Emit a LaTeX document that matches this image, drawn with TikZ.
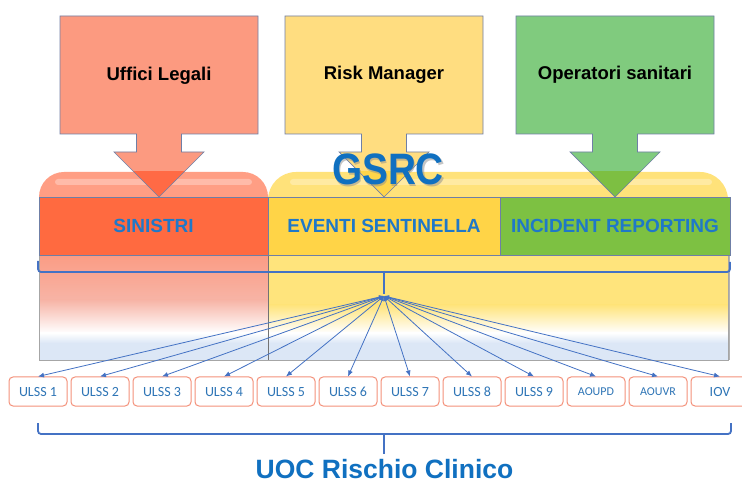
\documentclass[tikz,border=0pt]{standalone}
\usepackage{fontspec}
\setmainfont{Liberation Sans}
\newfontfamily\calfont{Carlito}
\usetikzlibrary{arrows.meta}
\definecolor{arRed}{HTML}{FC9A80}
\definecolor{arRedD}{HTML}{FF6A45}
\definecolor{arYel}{HTML}{FFDD80}
\definecolor{arYelD}{HTML}{FFD54A}
\definecolor{arGrn}{HTML}{80CB7E}
\definecolor{arGrnD}{HTML}{7DBF42}
\definecolor{barRed}{HTML}{FF6A40}
\definecolor{barYel}{HTML}{FFD447}
\definecolor{barGrn}{HTML}{7DC142}
\definecolor{bgRed}{HTML}{FF9E84}
\definecolor{bgYel}{HTML}{FFE27A}
\definecolor{lowRed}{HTML}{FB9C84}
\definecolor{midRed}{HTML}{F7B4A6}
\definecolor{lowYel}{HTML}{FFE47C}
\definecolor{lowBlue}{HTML}{DCE7F6}
\definecolor{edge}{HTML}{6F7FA6}
\definecolor{txtBlue}{HTML}{1F78C8}
\definecolor{bigBlue}{HTML}{1070C0}
\definecolor{lnBlue}{HTML}{4472C4}
\definecolor{boxEdge}{HTML}{F4917A}
\definecolor{boxTxt}{HTML}{2E75B6}
\newcommand\blockarrowpath{(-99,16) -- (99,16) -- (99,134) -- (22.5,134) -- (22.5,152) -- (45,152) -- (0,197) -- (-45,152) -- (-22.5,152) -- (-22.5,134) -- (-99,134) -- cycle}
\tikzset{
  lbl/.style={font=\fontsize{18.5}{21}\selectfont\bfseries, text=black},
  bar/.style={draw=edge, line width=0.7pt, minimum height=58pt, inner sep=0pt,
    font=\fontsize{19}{22}\selectfont\bfseries, text=txtBlue},
  ulss/.style={draw=boxEdge, line width=1pt, fill=white, rounded corners=4pt,
    minimum width=58pt, minimum height=29pt, inner sep=0pt, text=boxTxt,
    text height=9pt, text depth=0pt,
    font=\calfont\fontsize{14}{16}\selectfont},
  ulsss/.style={ulss, text height=8pt, font=\calfont\fontsize{12}{14}\selectfont},
  conn/.style={draw=lnBlue, line width=0.8pt, {Latex[length=5pt,width=4pt]}-{Latex[length=6pt,width=5pt]}},
  brace/.style={draw=lnBlue, line width=1.8pt, rounded corners=3pt}
}
\begin{document}
\begin{tikzpicture}[x=1pt,y=-1pt]
\useasboundingbox (0,0) rectangle (742,486);
\fill[white] (0,0) rectangle (742,486);

% background rounded panels (top part)
\begin{scope}
\clip (0,0) rectangle (742,255);
\fill[bgYel, rounded corners=28pt] (268,172) rectangle (728,320);
\fill[bgRed, rounded corners=25pt] (39,172) rectangle (268,320);
\fill[white, opacity=0.3, rounded corners=3pt] (55,179) rectangle (252,185);
\fill[white, opacity=0.3, rounded corners=3pt] (290,179) rectangle (712,185);
\end{scope}

% lower panels gradients
\shade[top color=lowRed, bottom color=midRed] (39,255) rectangle (268,300);
\shade[top color=midRed, bottom color=white] (39,300) rectangle (268,333);
\shade[top color=white, bottom color=lowBlue] (39,333) rectangle (268,343);
\fill[lowBlue] (39,343) rectangle (268,360);
\fill[lowYel] (268,255) rectangle (728,305);
\shade[top color=lowYel, bottom color=white] (268,305) rectangle (728,333);
\shade[top color=white, bottom color=lowBlue] (268,333) rectangle (728,343);
\fill[lowBlue] (268,343) rectangle (728,360);
\draw[gray!70, line width=0.8pt] (39,255) -- (39,360) -- (728,360) -- (728,255);
\draw[gray!90!black, line width=1.6pt] (268.5,255) -- (268.5,360);
\draw[gray!60, line width=1.2pt] (729.5,205) -- (729.5,360);

% block arrows
\begin{scope}[shift={(159,0)}]
  \fill[arRed] \blockarrowpath;
  \begin{scope}\clip (-60,172) rectangle (60,198); \fill[arRedD] \blockarrowpath; \end{scope}
  \draw[edge, line width=0.7pt] \blockarrowpath;
\end{scope}
\begin{scope}[shift={(384,0)}]
  \fill[arYel] \blockarrowpath;
  \begin{scope}\clip (-60,172) rectangle (60,198); \fill[arYelD] \blockarrowpath; \end{scope}
  \draw[edge, line width=0.7pt] \blockarrowpath;
\end{scope}
\begin{scope}[shift={(615,0)}]
  \fill[arGrn] \blockarrowpath;
  \begin{scope}\clip (-60,172) rectangle (60,198); \fill[arGrnD] \blockarrowpath; \end{scope}
  \draw[edge, line width=0.7pt] \blockarrowpath;
\end{scope}
\node[lbl] (ul) at (159,76) {Uffici Legali};
\node[lbl] (rm) at (384,75) {Risk Manager};
\node[lbl] (os) at (615,75) {Operatori sanitari};

% bars
\node[bar, fill=barRed, minimum width=229pt] (sin) at (153.5,226) {SINISTRI};
\node[bar, fill=barYel, minimum width=232pt] (ev) at (384,226) {EVENTI SENTINELLA};
\node[bar, fill=barGrn, minimum width=230pt] (ir) at (615,226) {INCIDENT REPORTING};

% GSRC title
\node[anchor=base, text=black!45, opacity=0.5, font=\fontsize{44}{48}\selectfont\bfseries] at (389.5,186.5) {\scalebox{0.88}[1]{GSRC}};
\node[anchor=base, text=bigBlue, font=\fontsize{44}{48}\selectfont\bfseries] (gsrc) at (388,185) {\scalebox{0.88}[1]{GSRC}};

% upper brace
\coordinate (bt) at (384,294);
\draw[brace] (38,261) |- (730,272) -- (730,262);
\draw[draw=lnBlue, line width=1.8pt] (384,271) -- (bt);
\coordinate (hub) at (384,296);

% ULSS boxes
\node[ulss] (u1) at (38,391.5) {ULSS 1};
\node[ulss] (u2) at (100,391.5) {ULSS 2};
\node[ulss] (u3) at (162,391.5) {ULSS 3};
\node[ulss] (u4) at (224,391.5) {ULSS 4};
\node[ulss] (u5) at (286,391.5) {ULSS 5};
\node[ulss] (u6) at (348,391.5) {ULSS 6};
\node[ulss] (u7) at (410,391.5) {ULSS 7};
\node[ulss] (u8) at (472,391.5) {ULSS 8};
\node[ulss] (u9) at (534,391.5) {ULSS 9};
\node[ulsss] (u10) at (596,391.5) {AOUPD};
\node[ulsss] (u11) at (658,391.5) {AOUVR};
\node[ulss] (u12) at (720,391.5) {IOV};

\foreach \k in {1,...,12} { \draw[conn] (hub) -- (u\k.north); }

% lower brace
\coordinate (lt) at (384,454);
\draw[brace] (38,423) |- (731,434) -- (731,423);
\draw[draw=lnBlue, line width=1.8pt] (384,433) -- (lt);

\node[anchor=base, inner sep=0pt, text depth=0pt, text=bigBlue, font=\fontsize{26.5}{30}\selectfont\bfseries] (uoc) at (384.5,478.5) {UOC Rischio Clinico};
\end{tikzpicture}
\end{document}
